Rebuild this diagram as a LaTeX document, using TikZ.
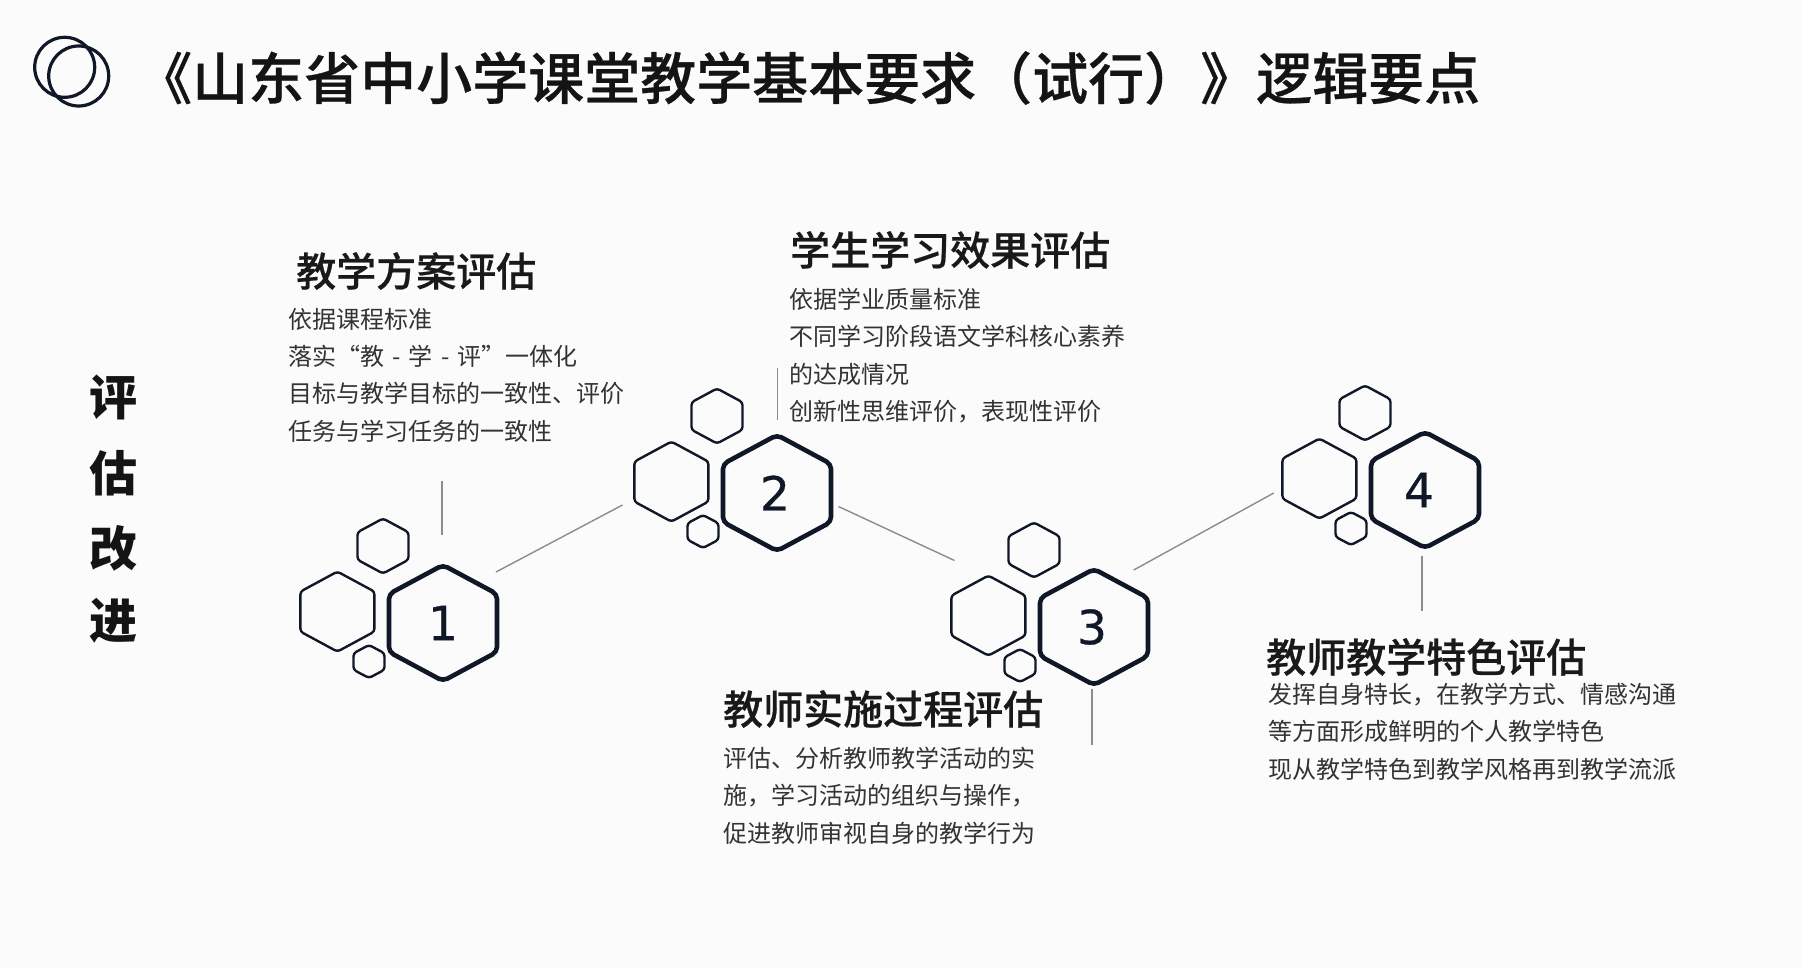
\documentclass[tikz,border=0pt]{standalone}
\usepackage{fontspec}
\setmainfont{Noto Sans CJK SC}
\newfontfamily\numfont[FakeBold=0.6]{DejaVu Sans}
\newfontfamily\headfont[FakeBold=0.5]{Noto Sans CJK SC Medium}
\definecolor{inkdark}{HTML}{101828}
\definecolor{linegray}{HTML}{8A8C90}
\definecolor{bodygray}{HTML}{333333}
\definecolor{paperbg}{HTML}{FBFBFC}
\tikzset{
	hexthin/.style={draw=inkdark, line width=2.4pt, rounded corners=3pt, line join=round},
	hexthick/.style={draw=inkdark, line width=4.6pt, rounded corners=5pt, line join=round},
	linkline/.style={draw=linegray, line width=1.4pt},
	headtext/.style={anchor=west, inner sep=0pt, text=black!90, font=\fontsize{40}{44}\selectfont\headfont},
	bodytext/.style={anchor=north west, inner sep=0pt, align=left, text=bodygray, font=\fontsize{24}{37.3}\selectfont},
	numtext/.style={inner sep=0pt, text=inkdark, font=\fontsize{47}{50}\selectfont\numfont},
	sidetext/.style={inner sep=0pt, text=black!92, font=\fontsize{48}{52}\selectfont\bfseries},
}
\newcommand{\hexcell}[5][hexthin]{%
	\path[#1, shift={(#2,#3)}] (0,-#5) -- (#4,-#5/2) -- (#4,#5/2) -- (0,#5) -- (-#4,#5/2) -- (-#4,-#5/2) -- cycle;}
\begin{document}
\begin{tikzpicture}[x=1pt, y=-1pt]
	\fill[paperbg] (0,0) rectangle (1801,968);
	\useasboundingbox (0,0) rectangle (1801,968);
	% logo rings
	\draw[inkdark, line width=3.2pt] (64.7,67.3) circle (30);
	\draw[inkdark, line width=3.2pt] (78.7,76) circle (30);
	\node[anchor=west, inner sep=0pt, text=black!92, font=\fontsize{56}{60}\selectfont\headfont] (title) at (136,78) {《山东省中小学课堂教学基本要求（试行）》逻辑要点};
	% side label
	\node[sidetext] (sideA) at (113,397) {评};
	\node[sidetext] (sideB) at (113,473) {估};
	\node[sidetext] (sideC) at (113,548) {改};
	\node[sidetext] (sideD) at (113,621) {进};
	% hexagon groups
	\foreach \n/\cx/\cy/\nx in {1/443/623/443, 2/777/493/775, 3/1094/627/1092, 4/1425/490/1419}{
		\hexcell[hexthick]{\cx}{\cy}{54}{58}
		\hexcell{\cx-105.6}{\cy-11.4}{37}{40}
		\hexcell{\cx-60}{\cy-77}{25.5}{27.5}
		\hexcell{\cx-74}{\cy+38.5}{15.5}{16.5}
		\node[numtext] (num\n) at (\nx,\cy) {\n};
	}
	% connectors
	\coordinate (upA) at (442,481);   \coordinate (upB) at (442,535);
	\coordinate (abA) at (496,572);   \coordinate (abB) at (622.5,505);
	\coordinate (upC) at (777.6,367.5); \coordinate (upD) at (777.6,420);
	\coordinate (bcA) at (838.5,506.5); \coordinate (bcB) at (954.5,560.5);
	\coordinate (dnA) at (1092,689);  \coordinate (dnB) at (1092,745);
	\coordinate (cdA) at (1133.7,570); \coordinate (cdB) at (1273.8,493);
	\coordinate (dnC) at (1422,556);  \coordinate (dnD) at (1422,611);
	\draw[linkline] (upA) -- (upB);
	\draw[linkline] (abA) -- (abB);
	\draw[linkline] (upC) -- (upD);
	\draw[linkline] (bcA) -- (bcB);
	\draw[linkline] (dnA) -- (dnB);
	\draw[linkline] (cdA) -- (cdB);
	\draw[linkline] (dnC) -- (dnD);
	% texts
	\node[headtext] (headA) at (296,271) {教学方案评估};
	\node[bodytext] (bodyA) at (288,308) {依据课程标准\\落实“教\hspace{2.8pt} - \hspace{2.8pt}学\hspace{2.8pt} - \hspace{2.8pt}评”一体化\\目标与教学目标的一致性、评价\\任务与学习任务的一致性};
	\node[headtext] (headB) at (790,250) {学生学习效果评估};
	\node[bodytext] (bodyB) at (789,288) {依据学业质量标准\\不同学习阶段语文学科核心素养\\的达成情况\\创新性思维评价，表现性评价};
	\node[headtext] (headC) at (723,709) {教师实施过程评估};
	\node[bodytext] (bodyC) at (723,747) {评估、分析教师教学活动的实\\施，学习活动的组织与操作，\\促进教师审视自身的教学行为};
	\node[headtext] (headD) at (1266,657) {教师教学特色评估};
	\node[bodytext] (bodyD) at (1268,683) {发挥自身特长，在教学方式、情感沟通\\等方面形成鲜明的个人教学特色\\现从教学特色到教学风格再到教学流派};
\end{tikzpicture}
\end{document}
